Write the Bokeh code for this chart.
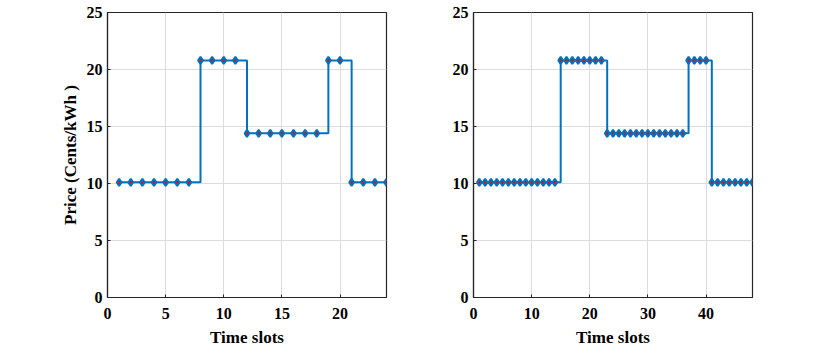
from bokeh.plotting import figure
from bokeh.layouts import row
from bokeh.models import Range1d, FixedTicker
from bokeh.embed import file_html
from bokeh.resources import INLINE

# Data: Ontario TOU prices per time slot (cents/kWh)
x24 = list(range(1, 25))
price24 = [10.1] * 7 + [20.8] * 4 + [14.4] * 7 + [20.8] * 2 + [10.1] * 4
x48 = list(range(1, 49))
price48 = [10.1] * 14 + [20.8] * 8 + [14.4] * 14 + [20.8] * 4 + [10.1] * 8

xticks24 = [0, 5, 10, 15, 20]
xticks48 = [0, 10, 20, 30, 40]
yticks = [0, 5, 10, 15, 20, 25]

FONT = "Liberation Serif"
BLUE = "#0072BD"


def style_axis(ax, ticks):
    ax.ticker = FixedTicker(ticks=ticks)
    ax.major_tick_in = 3
    ax.major_tick_out = 0
    ax.minor_tick_in = 0
    ax.minor_tick_out = 0
    ax.axis_line_color = "#262626"
    ax.axis_line_width = 1.2
    ax.major_tick_line_color = "#262626"
    ax.major_tick_line_width = 1
    ax.major_label_text_font = FONT
    ax.major_label_text_font_style = "bold"
    ax.major_label_text_color = "black"
    ax.major_label_text_font_size = "16px"


def make_panel(xs, ys, xmax, xticks, left_border, right_border, ylabel):
    p = figure(frame_width=279, frame_height=285, output_backend="svg",
               toolbar_location=None, x_range=Range1d(0, xmax),
               y_range=Range1d(0, 25), min_border_left=left_border,
               min_border_right=right_border, min_border_top=12,
               min_border_bottom=50)
    p.outline_line_color = "#262626"
    p.outline_line_width = 1.2
    p.background_fill_color = "white"
    p.border_fill_color = "white"

    style_axis(p.xaxis[0], xticks)
    style_axis(p.yaxis[0], yticks)
    p.xaxis[0].major_label_standoff = 10
    p.yaxis[0].major_label_standoff = 5
    p.xaxis[0].axis_label = "Time slots"
    p.xaxis[0].axis_label_standoff = 6
    if ylabel:
        p.yaxis[0].axis_label = ylabel
        p.yaxis[0].axis_label_standoff = 4
    for ax in (p.xaxis[0], p.yaxis[0]):
        ax.axis_label_text_font = FONT
        ax.axis_label_text_font_style = "bold"
        ax.axis_label_text_font_size = "17px"
        ax.axis_label_text_color = "black"

    p.xgrid.ticker = FixedTicker(ticks=xticks)
    p.ygrid.ticker = FixedTicker(ticks=yticks)
    p.grid.grid_line_color = "#dcdcdc"
    p.grid.grid_line_width = 1

    p.step(xs, ys, mode="after", line_color=BLUE, line_width=2)
    p.scatter(xs, ys, marker="diamond", size=7, fill_color="red",
              line_color=BLUE, line_width=2)
    return p


p1 = make_panel(x24, price24, 24, xticks24, 107, 22, "Price (Cents/kWh )")
p2 = make_panel(x48, price48, 48, xticks48, 65, 20, None)

layout = row(p1, p2)
open("out.html", "w").write(file_html(layout, INLINE))
